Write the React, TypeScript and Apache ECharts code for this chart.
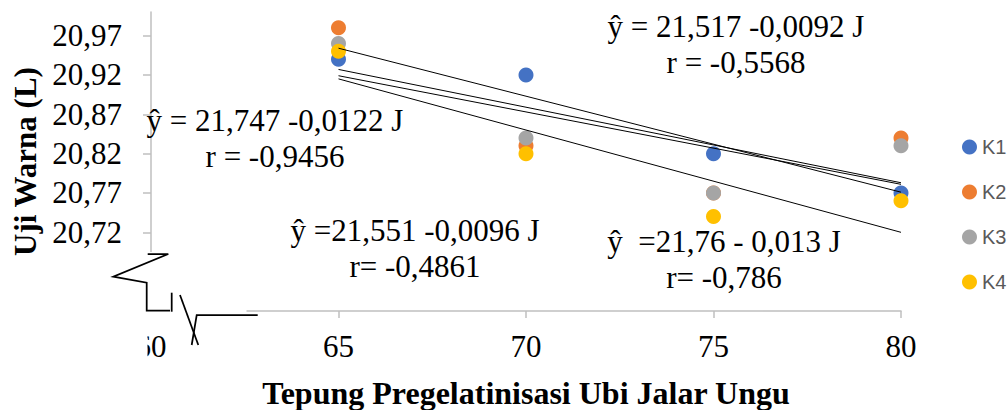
import React, { useEffect, useRef } from "react";
import * as echarts from "echarts";

// Flour concentration (J) on the x axis
const doses = [65, 70, 75, 80];
const seriesNames = ["K1", "K2", "K3", "K4"];
const seriesColors = ["#4472C4", "#ED7D31", "#A5A5A5", "#FFC000"];

// Colour test (L) per treatment
const k1 = [20.94, 20.92, 20.82, 20.77];
const k2 = [20.98, 20.83, 20.77, 20.84];
const k3 = [20.96, 20.84, 20.77, 20.83];
const k4 = [20.95, 20.82, 20.74, 20.76];
const seriesValues = [k1, k2, k3, k4];

// Linear regressions ŷ = a + b·J for K1..K4
const intercepts = [21.747, 21.551, 21.517, 21.76];
const slopes = [-0.0122, -0.0096, -0.0092, -0.013];

// Regression annotations (K3, K1, K2, K4)
const equationTexts = [
  "ŷ = 21,517 -0,0092 J\nr = -0,5568",
  "ŷ = 21,747 -0,0122 J\nr = -0,9456",
  "ŷ =21,551 -0,0096 J\nr= -0,4861",
  "ŷ  =21,76 - 0,013 J\nr= -0,786",
];

const yTickValues = [20.72, 20.77, 20.82, 20.87, 20.92, 20.97];
const xTickValues = [65, 70, 75, 80];

// Layout
const equationAnchors: [number, number][] = [
  [736, 44],
  [275, 138],
  [415, 248],
  [724, 259],
];
const SERIF = '"Liberation Serif", "Times New Roman", serif';
const AXIS_GRAY = "#BFBFBF";

function fmt(v: number, digits: number) {
  return v.toFixed(digits).replace(".", ",");
}

function buildOption(): echarts.EChartsOption {
  const scatter = seriesNames.map((name, i) => ({
    name,
    type: "scatter" as const,
    symbol: "circle",
    symbolSize: 15,
    itemStyle: { color: seriesColors[i], opacity: 1 },
    data: doses.map((d, j) => [d, seriesValues[i][j]]),
  }));

  const xFirst = doses[0];
  const xLast = doses[doses.length - 1];
  const trends = intercepts.map((a, i) => ({
    name: "trend-" + seriesNames[i],
    type: "line" as const,
    symbol: "none",
    silent: true,
    lineStyle: { color: "#000", width: 1 },
    data: [
      [xFirst, a + slopes[i] * xFirst],
      [xLast, a + slopes[i] * xLast],
    ],
  }));

  const breakStroke = { stroke: "#000", lineWidth: 1.75, fill: "none" };

  return {
    animation: false,
    backgroundColor: "#fff",
    grid: {
      left: 151,
      right: 107,
      top: 12,
      bottom: 99,
      containLabel: false,
      outerBoundsMode: "none",
    } as any,
    legend: {
      data: seriesNames,
      orient: "vertical",
      left: 957,
      top: 132,
      icon: "circle",
      itemWidth: 15,
      itemHeight: 15,
      itemGap: 25,
      selectedMode: false,
      textStyle: {
        fontFamily: '"Liberation Sans", Arial, sans-serif',
        fontSize: 20,
        color: "#595959",
      },
    },
    xAxis: {
      type: "value",
      min: 60,
      max: 80,
      interval: 5,
      name: "Tepung Pregelatinisasi Ubi Jalar Ungu",
      nameLocation: "middle",
      nameGap: 66,
      nameTextStyle: {
        fontFamily: SERIF,
        fontSize: 32,
        fontWeight: "bold",
        color: "#000",
      },
      axisLine: { show: true, lineStyle: { color: AXIS_GRAY, width: 1.5 } },
      axisTick: {
        show: true,
        length: 7,
        customValues: xTickValues,
        lineStyle: { color: AXIS_GRAY, width: 1.5 },
      } as any,
      axisLabel: {
        margin: 20,
        fontFamily: SERIF,
        fontSize: 31,
        color: "#000",
      },
      splitLine: { show: false },
    },
    yAxis: {
      type: "value",
      min: 20.62,
      max: 21.0,
      name: "Uji Warna (L)",
      nameLocation: "middle",
      nameGap: 110,
      nameTextStyle: {
        fontFamily: SERIF,
        fontSize: 31,
        fontWeight: "bold",
        color: "#000",
      },
      axisLine: { show: true, lineStyle: { color: AXIS_GRAY, width: 1.5 } },
      axisTick: {
        show: true,
        length: 8,
        customValues: yTickValues,
        lineStyle: { color: AXIS_GRAY, width: 1.5 },
      } as any,
      axisLabel: {
        customValues: yTickValues,
        margin: 29,
        fontFamily: SERIF,
        fontSize: 31,
        color: "#000",
        formatter: (v: number) => fmt(v, 2),
      } as any,
      splitLine: { show: false },
    },
    graphic: [
      // axis-break: blank out the axis corner
      {
        type: "rect",
        z: 10,
        shape: { x: 100, y: 252, width: 146.5, height: 70 },
        style: { fill: "#fff" },
      },
      {
        type: "rect",
        z: 10,
        shape: { x: 120, y: 325, width: 27.5, height: 45 },
        style: { fill: "#fff" },
      },
      // axis-break zigzags
      {
        type: "polyline",
        z: 11,
        shape: {
          points: [
            [147.7, 254],
            [168.3, 254],
            [113.3, 276.7],
            [146.7, 282.7],
            [146.7, 310.7],
            [170, 310.7],
          ],
        },
        style: breakStroke,
      },
      {
        type: "line",
        z: 11,
        shape: { x1: 171.7, y1: 292.7, x2: 171.7, y2: 311.7 },
        style: breakStroke,
      },
      {
        type: "line",
        z: 11,
        shape: { x1: 180, y1: 295, x2: 198.3, y2: 345 },
        style: breakStroke,
      },
      {
        type: "polyline",
        z: 11,
        shape: {
          points: [
            [191.7, 345],
            [196.7, 315],
            [257.7, 315],
          ],
        },
        style: breakStroke,
      },
      // regression equations
      ...equationTexts.map((text, i) => ({
        type: "text" as const,
        z: 12,
        x: equationAnchors[i][0],
        y: equationAnchors[i][1],
        style: {
          text,
          fill: "#000",
          fontFamily: SERIF,
          fontSize: 31,
          lineHeight: 36,
          align: "center",
          verticalAlign: "middle",
        },
      })),
    ] as any,
    series: [...scatter, ...trends],
  };
}

export default function App() {
  const ref = useRef<HTMLDivElement>(null);
  useEffect(() => {
    if (!ref.current) return;
    const chart = echarts.init(ref.current, null, { renderer: "svg" });
    chart.setOption(buildOption());
    return () => chart.dispose();
  }, []);
  return (
    <div
      ref={ref}
      style={{
        position: "fixed",
        left: 0,
        top: 0,
        width: 1008,
        height: 410,
        background: "#fff",
      }}
    />
  );
}
